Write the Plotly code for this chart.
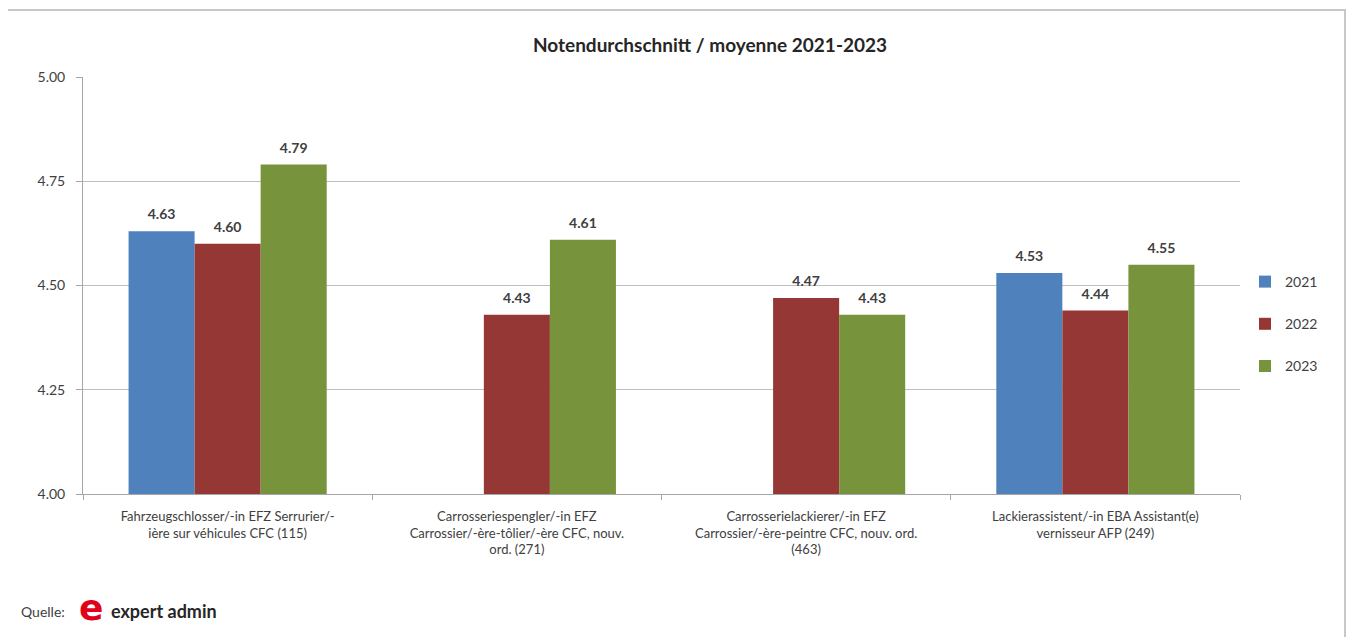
import plotly.graph_objects as go

categories = [
    "Fahrzeugschlosser/-in EFZ Serrurier/-<br>ière sur véhicules CFC (115)",
    "Carrosseriespengler/-in EFZ<br>Carrossier/-ère-tôlier/-ère CFC, nouv.<br>ord. (271)",
    "Carrosserielackierer/-in EFZ<br>Carrossier/-ère-peintre CFC, nouv. ord.<br>(463)",
    "Lackierassistent/-in EBA Assistant(e)<br>vernisseur AFP (249)",
]
years = ["2021", "2022", "2023"]
values_2021 = [4.63, None, None, 4.53]
values_2022 = [4.60, 4.43, 4.47, 4.44]
values_2023 = [4.79, 4.61, 4.43, 4.55]
colors = ["#4F81BD", "#953735", "#77933C"]

FONT = "Lato, 'Open Sans', sans-serif"
TXT = "#404040"

OFF = 8  # page body margin
W, H = 1355 - OFF, 637 - OFF
# plot area in screenshot pixels
SL, SR, ST, SB = 83, 1240, 77, 494
L, R, T, B = SL - OFF, SR - OFF, ST - OFF, SB - OFF


def px(x):
    return (x - SL) / (SR - SL)


def py(y):
    return (SB - y) / (SB - ST)


GAP = 0.315

fig = go.Figure()
for name, vals, col in zip(years, [values_2021, values_2022, values_2023], colors):
    fig.add_trace(go.Bar(
        x=categories, y=vals, name=name, marker=dict(color=col, line=dict(width=0)),
        legendgroup=name,
    ))
for name, vals in zip(years, [values_2021, values_2022, values_2023]):
    fig.add_trace(go.Scatter(
        x=categories, y=vals, mode="markers+text", showlegend=False, name=name,
        texttemplate="%{y:.2f}", textposition="top center", cliponaxis=False,
        marker=dict(size=12, opacity=0),
        textfont=dict(family=FONT, size=14, color=TXT, weight="bold"),
        hoverinfo="skip",
    ))

fig.update_layout(
    width=W, height=H,
    margin=dict(l=L, r=W - R, t=T, b=H - B),
    paper_bgcolor="white", plot_bgcolor="white",
    barmode="group", bargap=GAP, bargroupgap=0,
    scattermode="group", scattergap=GAP,
    font=dict(family=FONT, size=13, color=TXT),
    title=dict(text="<b>Notendurchschnitt / moyenne 2021-2023</b>",
               x=px(710), xref="paper", xanchor="center",
               y=1 - (45 - OFF) / H, yref="container", yanchor="middle",
               font=dict(family=FONT, size=19, color="#262626")),
    legend=dict(x=px(1245), xanchor="left", y=py(324), yanchor="middle",
                font=dict(size=14, color=TXT), tracegroupgap=21,
                itemwidth=30, bgcolor="rgba(0,0,0,0)"),
    showlegend=True,
)
fig.update_yaxes(range=[4, 5], dtick=0.25, tickformat=".2f",
                 showgrid=True, gridcolor="#BFBFBF", gridwidth=1,
                 showline=True, linecolor="#A6A6A6", linewidth=1,
                 ticks="outside", ticklen=6, tickcolor="#A6A6A6",
                 ticklabelstandoff=8,
                 tickfont=dict(size=14, color=TXT), zeroline=False)
fig.update_xaxes(showline=True, linecolor="#A6A6A6", linewidth=1,
                 ticks="outside", tickson="boundaries", ticklen=5, tickcolor="#A6A6A6",
                 ticklabelstandoff=10,
                 tickfont=dict(size=13, color=TXT), tickangle=0)

fig.add_shape(type="rect", xref="paper", yref="paper",
              x0=px(7), x1=px(1345), y0=py(680), y1=py(10),
              line=dict(color="#C8C8C8", width=2), fillcolor="rgba(0,0,0,0)", layer="below")

fig.add_annotation(xref="paper", yref="paper", x=px(19), y=py(611), xanchor="left", yanchor="middle",
                   text="Quelle:", showarrow=False, font=dict(size=14, color="#404040"))
fig.add_annotation(xref="paper", yref="paper", x=px(91), y=py(607), xanchor="center", yanchor="middle",
                   text="<b>e</b>", showarrow=False,
                   font=dict(family="'DejaVu Sans', sans-serif", size=36, color="#E3001B"))
fig.add_annotation(xref="paper", yref="paper", x=px(109), y=py(611), xanchor="left", yanchor="middle",
                   text="expert admin", showarrow=False,
                   font=dict(size=18, color="#262626", weight="bold"))

fig.write_html("out.html")
